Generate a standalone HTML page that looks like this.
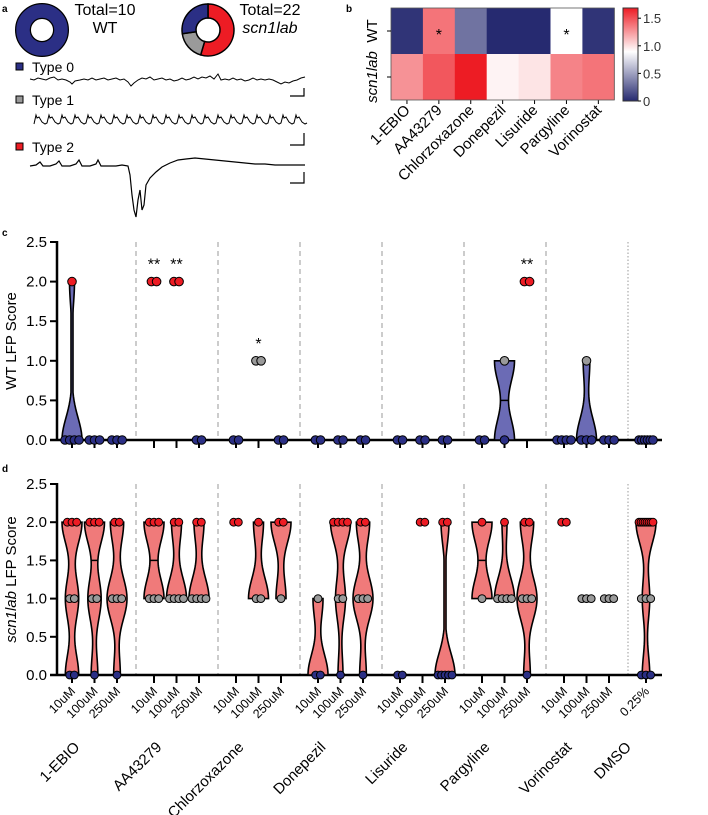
<!DOCTYPE html>
<html><head><meta charset="utf-8"><style>
html,body{margin:0;padding:0;background:#fff;}
svg{display:block;font-family:"Liberation Sans",Arial,sans-serif;}
</style></head><body>
<svg id="fig" width="708" height="815" viewBox="0 0 708 815" xmlns="http://www.w3.org/2000/svg">
<text x="2" y="12" font-size="10" font-weight="bold">a</text>
<text x="346" y="12" font-size="10" font-weight="bold">b</text>
<text x="2" y="236" font-size="10" font-weight="bold">c</text>
<text x="2" y="472" font-size="10" font-weight="bold">d</text>

<g>
  <circle cx="42" cy="30" r="19" fill="none" stroke="#000" stroke-width="16"/>
  <circle cx="42" cy="30" r="19" fill="none" stroke="#2b2f85" stroke-width="13.5"/>
  <text x="105" y="15" font-size="16" text-anchor="middle">Total=10</text>
  <text x="105" y="33" font-size="16" text-anchor="middle">WT</text>
  <g id="donut2"></g>
  <text x="270" y="15" font-size="16" text-anchor="middle">Total=22</text>
  <text x="270" y="33" font-size="16" text-anchor="middle" font-style="italic">scn1lab</text>

  <rect x="16" y="63" width="7" height="7" fill="#2b2f85" stroke="#000"/>
  <text x="32" y="72" font-size="14">Type 0</text>
  <rect x="16" y="96" width="7" height="7" fill="#999" stroke="#000"/>
  <text x="32" y="105" font-size="14">Type 1</text>
  <rect x="16" y="143" width="7" height="7" fill="#ed1c24" stroke="#000"/>
  <text x="32" y="152" font-size="14">Type 2</text>

  <path d="M30,79 L34,80 L38,78 L42,79 L46,80 L50,78 L54,77 L58,80 L62,79 L66,80 L70,82 L72,84 L75,81 L80,80 L84,79 L88,80 L92,78 L96,80 L100,79 L104,78 L108,80 L112,79 L116,78 L120,80 L124,79 L128,82 L131,86 L134,83 L138,80 L142,78 L146,79 L150,77 L154,80 L158,79 L162,78 L166,80 L170,79 L174,81 L178,80 L182,78 L186,80 L190,79 L194,77 L198,79 L202,77 L206,78 L210,76 L214,79 L218,74 L221,80 L225,79 L229,80 L233,78 L237,80 L241,79 L245,81 L249,80 L253,78 L257,80 L261,79 L265,80 L269,79 L273,80 L277,82 L281,84 L285,82 L289,83 L293,81 L297,80 L301,78 L305,77" fill="none" stroke="#000" stroke-width="1"/>
  <path d="M290,96 L304,96 L304,88" fill="none" stroke="#000" stroke-width="1.2"/>
  <path id="t1" fill="none" stroke="#000" stroke-width="1"/>
  <path d="M290,145 L304,145 L304,133" fill="none" stroke="#000" stroke-width="1.2"/>
  <path d="M30,166 L36,165 L40,162 L43,166 L50,166 L56,164 L59,161 L62,166 L70,166 L76,164 L79,160 L82,166 L90,166 L96,164 L98,160 L101,166 L110,166 L116,166 L122,165 L128,166 L130,175 L132,195 L134,210 L136,217 L138,200 L140,190 L142,210 L144,205 L146,185 L150,178 L156,172 L162,167 L170,163 L178,160 L186,159 L195,158 L205,159 L215,160 L225,161 L235,162 L245,163 L255,164 L265,164 L275,165 L285,165 L295,165 L305,165" fill="none" stroke="#000" stroke-width="1.2"/>
  <path d="M290,183 L304,183 L304,172" fill="none" stroke="#000" stroke-width="1.2"/>
</g>

<g id="heat">
  <defs>
    <linearGradient id="cbar" x1="0" y1="1" x2="0" y2="0">
      <stop offset="0" stop-color="#262a70"/>
      <stop offset="0.53" stop-color="#ffffff"/>
      <stop offset="1" stop-color="#ed1c24"/>
    </linearGradient>
  </defs>
  <rect x="623" y="8" width="15" height="93" fill="url(#cbar)" stroke="#333"/>
  <text x="372" y="54" font-size="15" text-anchor="middle" transform="rotate(-90 372 31)"><tspan x="372" y="36">WT</tspan></text>
  <text x="372" y="82" font-size="15" text-anchor="middle" font-style="italic" transform="rotate(-90 372 77)">scn1lab</text>
</g>

<g id="pc"></g>
<g id="pd"></g>
<g id="xl"></g>
</svg>
<script>
const groups = ['1-EBIO','AA43279','Chlorzoxazone','Donepezil','Lisuride','Pargyline','Vorinostat','DMSO'];
const doses = ['10uM','100uM','250uM'];
const dmsoDose = '0.25%';
const heatCols = ['1-EBIO','AA43279','Chlorzoxazone','Donepezil','Lisuride','Pargyline','Vorinostat'];
const heatWT = [0.04,1.35,0.3,0,0,0.88,0.04];
const heatScn = [1.25,1.45,1.65,0.92,0.97,1.3,1.35];
const heatWTStars = ['', '*', '', '', '', '*', ''];
const cbarTicks = [0,0.5,1.0,1.5];
const yTicks = [0,0.5,1.0,1.5,2.0,2.5];
const wtData = [
  [[2,0,0,0,0],[0,0,0],[0,0,0]],
  [[2,2],[2,2],[0,0]],
  [[0,0],[1,1],[0,0]],
  [[0,0],[0,0],[0,0]],
  [[0,0],[0,0],[0,0]],
  [[0,0],[1,0],[2,2]],
  [[0,0,0,0],[1,0,0,0],[0,0,0]],
  [[0,0,0,0,0,0]]
];
const wtStars = [
  ['','',''],['**','**',''],['','*',''],['','',''],['','',''],['','','**'],['','',''],['']
];
const scnData = [
  [[2,2,2,1,1,0,0],[2,2,2,1,1,0],[2,2,1,1,1,0]],
  [[2,2,2,1,1,1],[2,2,1,1,1,1],[2,2,1,1,1,1]],
  [[2,2],[2,1,1],[2,2,1]],
  [[1,0,0],[2,2,2,2,1,1,0],[2,2,1,1,1,0]],
  [[0,0],[2,2],[2,2,0,0,0,0,0]],
  [[2,1],[2,1,1,1,1],[2,2,1,1,1,0]],
  [[2,2],[1,1,1],[1,1,1]],
  [[2,2,2,2,2,2,2,2,1,1,1,0,0,0]]
];
const NS='http://www.w3.org/2000/svg';
function mk(tag,attrs,parent){const e=document.createElementNS(NS,tag);for(const k in attrs)e.setAttribute(k,attrs[k]);parent.appendChild(e);return e;}
const colorFor = v => v>=2?'#ed1c24':(v>=1?'#9a9a9a':'#2b2f85');
function xPos(g,d){return 72+g*82+d*22.5;}
function lerp(a,b,t){return a.map((x,i)=>Math.round(x+(b[i]-x)*t));}
function heatColor(v){const navy=[38,42,112],w=[255,255,255],r=[237,28,36];const mid=0.88,max=1.65;
  let c = v<=mid? lerp(navy,w,Math.max(0,v)/mid) : lerp(w,r,Math.min(1,(v-mid)/(max-mid)));return 'rgb('+c.join(',')+')';}

(function(){
  const g=document.getElementById('donut2');
  const segs=[[12,'#ed1c24'],[4,'#9a9a9a'],[6,'#2b2f85']];
  const cx=208,cy=30,R=26,r=12;let a0=0;
  segs.forEach(([n,c],i)=>{
    const a1=a0+n/22*2*Math.PI;
    const p=(ang,rad)=>[cx+rad*Math.sin(ang),cy-rad*Math.cos(ang)];
    const [x1,y1]=p(a0,R),[x2,y2]=p(a1,R),[x3,y3]=p(a1,r),[x4,y4]=p(a0,r);
    const large=(a1-a0)>Math.PI?1:0;
    const e=mk('path',{d:`M${x1},${y1} A${R},${R} 0 ${large} 1 ${x2},${y2} L${x3},${y3} A${r},${r} 0 ${large} 0 ${x4},${y4} Z`,fill:c,stroke:'#000','stroke-width':1.5},g);
    
    
    a0=a1;
  });
})();
(function(){
  let d='M34,124';
  for(let x=34;x<300;x+=13){d+=` L${x+2},115 L${x+3},118 L${x+5},117 L${x+8},122 L${x+11},124 L${x+13},123`;}
  document.getElementById('t1').setAttribute('d',d);
})();

(function(){
  const g=document.getElementById('heat');
  const x0=391,cw=31.9,y0=8,rh=46;
  heatCols.forEach((name,i)=>{
    const a=mk('rect',{x:x0+i*cw,y:y0,width:cw+0.4,height:rh,fill:heatColor(heatWT[i])},g);
    
    
    const b=mk('rect',{x:x0+i*cw,y:y0+rh,width:cw+0.4,height:rh,fill:heatColor(heatScn[i])},g);
    
    
    if(heatWTStars[i]){const s=mk('text',{x:x0+i*cw+cw/2,y:y0+rh/2+9,'font-size':16,'text-anchor':'middle'},g);s.textContent=heatWTStars[i];
      
      }
    const cx=x0+i*cw+cw/2;
    mk('line',{x1:cx,y1:100,x2:cx,y2:104,stroke:'#000'},g);
    const t=mk('text',{x:cx+4,y:111,'font-size':15,'text-anchor':'end',transform:`rotate(-45 ${cx+4} 111)`},g);
    t.textContent=name;
    
    
  });
  mk('rect',{x:x0,y:y0,width:cw*7,height:rh*2,fill:'none',stroke:'#555','stroke-width':0.8},g);
  mk('line',{x1:x0-4,y1:31,x2:x0,y2:31,stroke:'#000'},g);
  mk('line',{x1:x0-4,y1:77,x2:x0,y2:77,stroke:'#000'},g);
  const cy=v=>101-v*55.2;
  cbarTicks.forEach(v=>{
    mk('line',{x1:638,y1:cy(v),x2:641,y2:cy(v),stroke:'#000'},g);
    const t=mk('text',{x:643,y:cy(v)+5,'font-size':13,fill:'#333'},g);
    t.textContent=v===0?'0':v.toFixed(1);
    
    
  });
})();

function panel(gid,data,stars,yTop,yZero,fill,title,italicPart,maxW,dotR){
  const g=document.getElementById(gid);
  const unit=(yZero-yTop)/2.5;
  const y=v=>yZero-v*unit;
  for(let i=0;i<7;i++){
    const sx=136+i*82;
    const l=mk('line',{x1:sx,y1:yTop,x2:sx,y2:yZero,stroke:'#999','stroke-width':1,'stroke-dasharray':i===6?'1.5,2':'5,4'},g);
    
    
  }
  mk('line',{x1:57,y1:yTop-1,x2:57,y2:yZero,stroke:'#000','stroke-width':2.5},g);
  mk('line',{x1:50,y1:yZero,x2:662,y2:yZero,stroke:'#000','stroke-width':2.5},g);
  yTicks.forEach(v=>{
    mk('line',{x1:50,y1:y(v),x2:57,y2:y(v),stroke:'#000','stroke-width':2},g);
    const t=mk('text',{x:47,y:y(v)+5,'font-size':15,'text-anchor':'end'},g);
    t.textContent=v.toFixed(1);
    
    
  });
  const cyT=(yTop+yZero)/2;
  const tt=mk('text',{x:16,y:cyT,'font-size':15,'text-anchor':'middle',transform:`rotate(-90 16 ${cyT})`},g);
  if(italicPart){const s=mk('tspan',{'font-style':'italic'},tt);s.textContent=italicPart;const s2=mk('tspan',{},tt);s2.textContent=' '+title;}
  else tt.textContent=title;
  
  
  data.forEach((grp,gi)=>{
    grp.forEach((vals,di)=>{
      const cx=xPos(gi,di);
      mk('line',{x1:cx,y1:yZero,x2:cx,y2:yZero+8,stroke:'#000','stroke-width':2},g);
      const mn=Math.min(...vals),mx=Math.max(...vals);
      if(mx>mn){
        const h=0.28,steps=40,dens=[];
        for(let s=0;s<=steps;s++){const yv=mn+(mx-mn)*s/steps;let d=0;vals.forEach(v=>d+=Math.exp(-((yv-v)**2)/(2*h*h)));dens.push([yv,d]);}
        const md=Math.max(...dens.map(d=>d[1]));
        let L='',R='';
        dens.forEach(([yv,d],k)=>{const w=Math.max(1,maxW*d/md);L+=(k?' L':'M')+(cx-w)+','+y(yv);});
        for(let k=dens.length-1;k>=0;k--){const [yv,d]=dens[k];const w=Math.max(1,maxW*d/md);R+=' L'+(cx+w)+','+y(yv);}
        const p=mk('path',{d:L+R+' Z',fill:fill,stroke:'#000','stroke-width':1.6},g);
        
        
        const sorted=[...vals].sort((a,b)=>a-b);const n=sorted.length;
        const med=n%2?sorted[(n-1)/2]:(sorted[n/2-1]+sorted[n/2])/2;
        mk('line',{x1:cx-4,y1:y(med),x2:cx+4,y2:y(med),stroke:'#000','stroke-width':1.5},g);
      }
      const counts={};
      vals.forEach(v=>counts[v]=(counts[v]||0)+1);
      Object.keys(counts).forEach(k=>{
        const v=+k,n=counts[k];
        const sp=n>1?Math.min(dotR*1.2,14/(n-1)):0;
        for(let j=0;j<n;j++){
          const dx=(j-(n-1)/2)*sp;
          const c=mk('circle',{cx:cx+dx,cy:y(v),r:dotR,fill:colorFor(v),stroke:'#000','stroke-width':1},g);
          
          
        }
      });
      const st=stars[gi]&&stars[gi][di];
      if(st){
        const top=Math.max(...vals);
        const t=mk('text',{x:cx,y:y(top)-12,'font-size':16,'text-anchor':'middle'},g);
        t.textContent=st;
        
        
      }
    });
  });
}
panel('pc',wtData,wtStars,242,440,'#6b6bb5','WT LFP Score','',10,4.3);
panel('pd',scnData,[],484,675,'#f07a7a','LFP Score','scn1lab',10,3.9);

(function(){
  const g=document.getElementById('xl');
  groups.forEach((name,gi)=>{
    const labs=gi===7?[dmsoDose]:doses;
    labs.forEach((lb,di)=>{
      const cx=xPos(gi,di)+4,yy=692;
      const t=mk('text',{x:cx,y:yy,'font-size':12.5,'text-anchor':'end',transform:`rotate(-45 ${cx} ${yy})`},g);
      t.textContent=lb;
      
      
    });
    const mid=gi===7?xPos(7,0):xPos(gi,1);
    const ax=mid-14,ay=748;
    const t=mk('text',{x:ax,y:ay,'font-size':15,'text-anchor':'end',transform:`rotate(-45 ${ax} ${ay})`},g);
    t.textContent=name;
    
    
  });
})();
</script>
</body></html>
